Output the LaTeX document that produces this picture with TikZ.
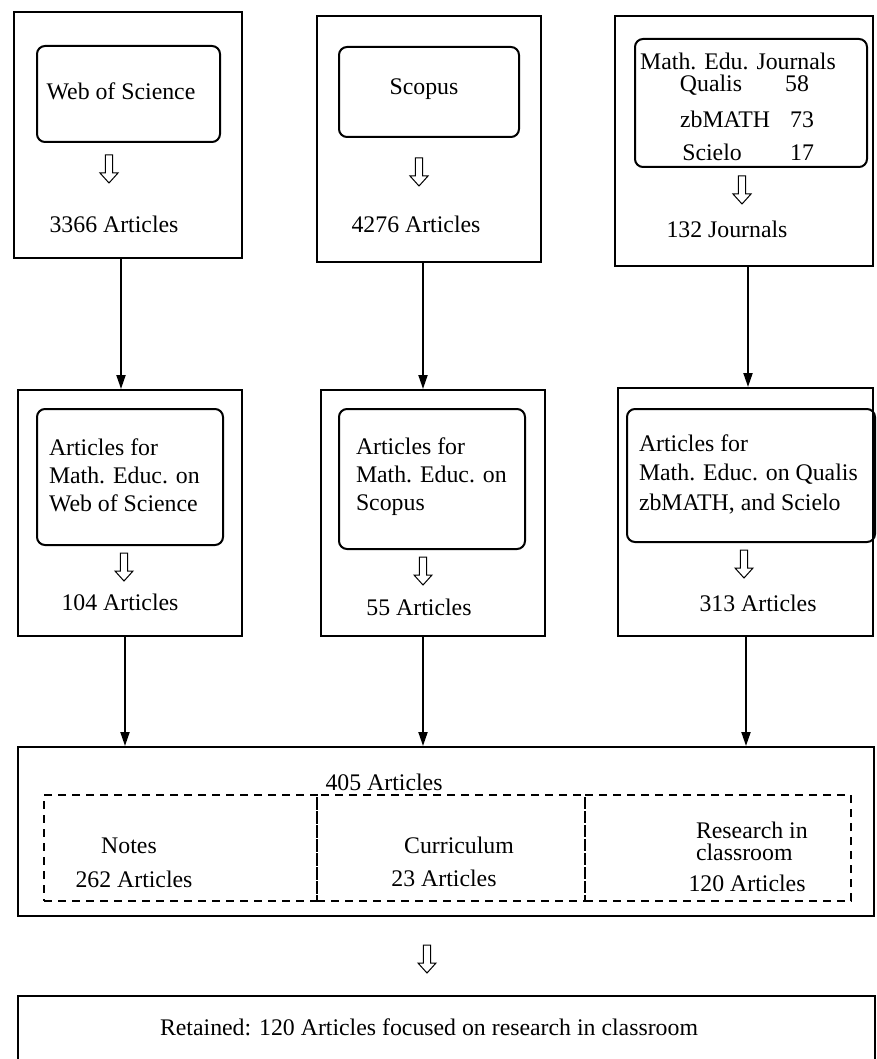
\documentclass[tikz,border=0pt]{standalone}
\usepackage{fontspec}
\setmainfont{Liberation Serif}
\usetikzlibrary{arrows.meta}

\begin{document}
\begin{tikzpicture}[x=1pt,y=-1pt,line width=2pt,font=\fontsize{23.8}{28}\selectfont,
  frame/.style={draw,rectangle,inner sep=0pt},
  inbox/.style={draw,rectangle,rounded corners=8pt,inner sep=0pt},
  cell/.style={draw,rectangle,dash pattern=on 8pt off 6pt,inner sep=0pt},
  lbl/.style={inner sep=0pt,anchor=base},
  para/.style={inner sep=0pt,anchor=base west,align=left},
  link/.style={-{Triangle[length=14pt,width=9pt]}},
  hollow/.pic={\draw[line width=1pt,fill=white] (-3.7,0)--(-3.7,18)--(-9,18)--(0,28)--(9,18)--(3.7,18)--(3.7,0)--cycle;}]
  \useasboundingbox (0,0) rectangle (876,1059);
  \clip (0,0) rectangle (876,1059);
  \node[frame,minimum width=228,minimum height=246] (wosF) at (128,135) {};
  \node[inbox,minimum width=183,minimum height=96] (wosI) at (128.5,94) {};
  \node[lbl] (wosT) at (121,100) {Web of Science};
  \pic at (109,155) {hollow};
  \node[lbl] (wosN) at (114,233) {3366 Articles};
  \node[frame,minimum width=224,minimum height=246] (scoF) at (429,139) {};
  \node[inbox,minimum width=180,minimum height=90] (scoI) at (429,92) {};
  \node[lbl] (scoT) at (424,95) {Scopus};
  \pic at (419,158) {hollow};
  \node[lbl] (scoN) at (416,233) {4276 Articles};
  \node[frame,minimum width=258,minimum height=250] (jouF) at (744,141) {};
  \node[inbox,minimum width=232,minimum height=128] (jouI) at (751,103) {};
  \node[lbl] (jouT) at (738,70) {Math. Edu. Journals};
  \node[lbl] (qua) at (711,92) {Qualis};
  \node[lbl] (quaN) at (797,92) {58};
  \node[lbl] (zbm) at (725,128) {zbMATH};
  \node[lbl] (zbmN) at (802,128) {73};
  \node[lbl] (sci) at (712,161) {Scielo};
  \node[lbl] (sciN) at (802,161) {17};
  \pic at (742,176) {hollow};
  \node[lbl] (jouN) at (727,238) {132 Journals};
  \node[frame,minimum width=224,minimum height=246] (wosA) at (130,513) {};
  \node[inbox,minimum width=186,minimum height=136] (wosB) at (130,477) {};
  \node[para] (wosS) at (48,511) {Articles for\\Math. Educ. on\\Web of Science};
  \pic at (124,553) {hollow};
  \node[lbl] (wosM) at (120,610) {104 Articles};
  \node[frame,minimum width=224,minimum height=246] (scoA) at (433,513) {};
  \node[inbox,minimum width=186,minimum height=140] (scoB) at (432,479) {};
  \node[para] (scoS) at (355,510) {Articles for\\Math. Educ. on\\Scopus};
  \pic at (423,557) {hollow};
  \node[lbl] (scoM) at (419,615) {55 Articles};
  \node[frame,minimum width=255,minimum height=248] (jouA) at (745.5,512) {};
  \node[inbox,minimum width=248,minimum height=133] (jouB) at (751,475.5) {};
  \node[para] (jouS) at (638,510) {Articles for\\[1.5pt]Math. Educ. on Qualis\\[1.5pt]zbMATH, and Scielo};
  \pic at (744,550) {hollow};
  \node[lbl] (jouM) at (758,611) {313 Articles};
  \node[frame,minimum width=856,minimum height=169] (sel) at (446,831.5) {};
  \node[lbl] (selN) at (384,790) {405 Articles};
  \node[cell,minimum width=273,minimum height=106] (notes) at (180.5,848) {};
  \node[cell,minimum width=268,minimum height=106] (curr) at (451,848) {};
  \node[cell,minimum width=266,minimum height=106] (res) at (718,848) {};
  \node[lbl] (notesT) at (129,853) {Notes};
  \node[lbl] (notesN) at (134,887) {262 Articles};
  \node[lbl] (currT) at (459,853) {Curriculum};
  \node[lbl] (currN) at (444,886) {23 Articles};
  \node[para] (resT) at (695,860) {Research in\\[-6pt]classroom};
  \node[lbl] (resN) at (747,891) {120 Articles};
  \pic at (427,945) {hollow};
  \node[frame,minimum width=857,minimum height=80] (ret) at (446.5,1036) {};
  \node[lbl] (retT) at (429,1035) {Retained: 120 Articles focused on research in classroom};
  \draw[link] ([xshift=-7pt]wosF.south) -- ([xshift=-9pt]wosA.north);
  \draw[link] ([xshift=-6pt]scoF.south) -- ([xshift=-10pt]scoA.north);
  \draw[link] ([xshift=4pt]jouF.south) -- ([xshift=2.5pt]jouA.north);
  \draw[link] ([xshift=-5pt]wosA.south) -- ([xshift=-321pt]sel.north);
  \draw[link] ([xshift=-10pt]scoA.south) -- ([xshift=-23pt]sel.north);
  \draw[link] ([xshift=0.5pt]jouA.south) -- ([xshift=300pt]sel.north);
\end{tikzpicture}
\end{document}
